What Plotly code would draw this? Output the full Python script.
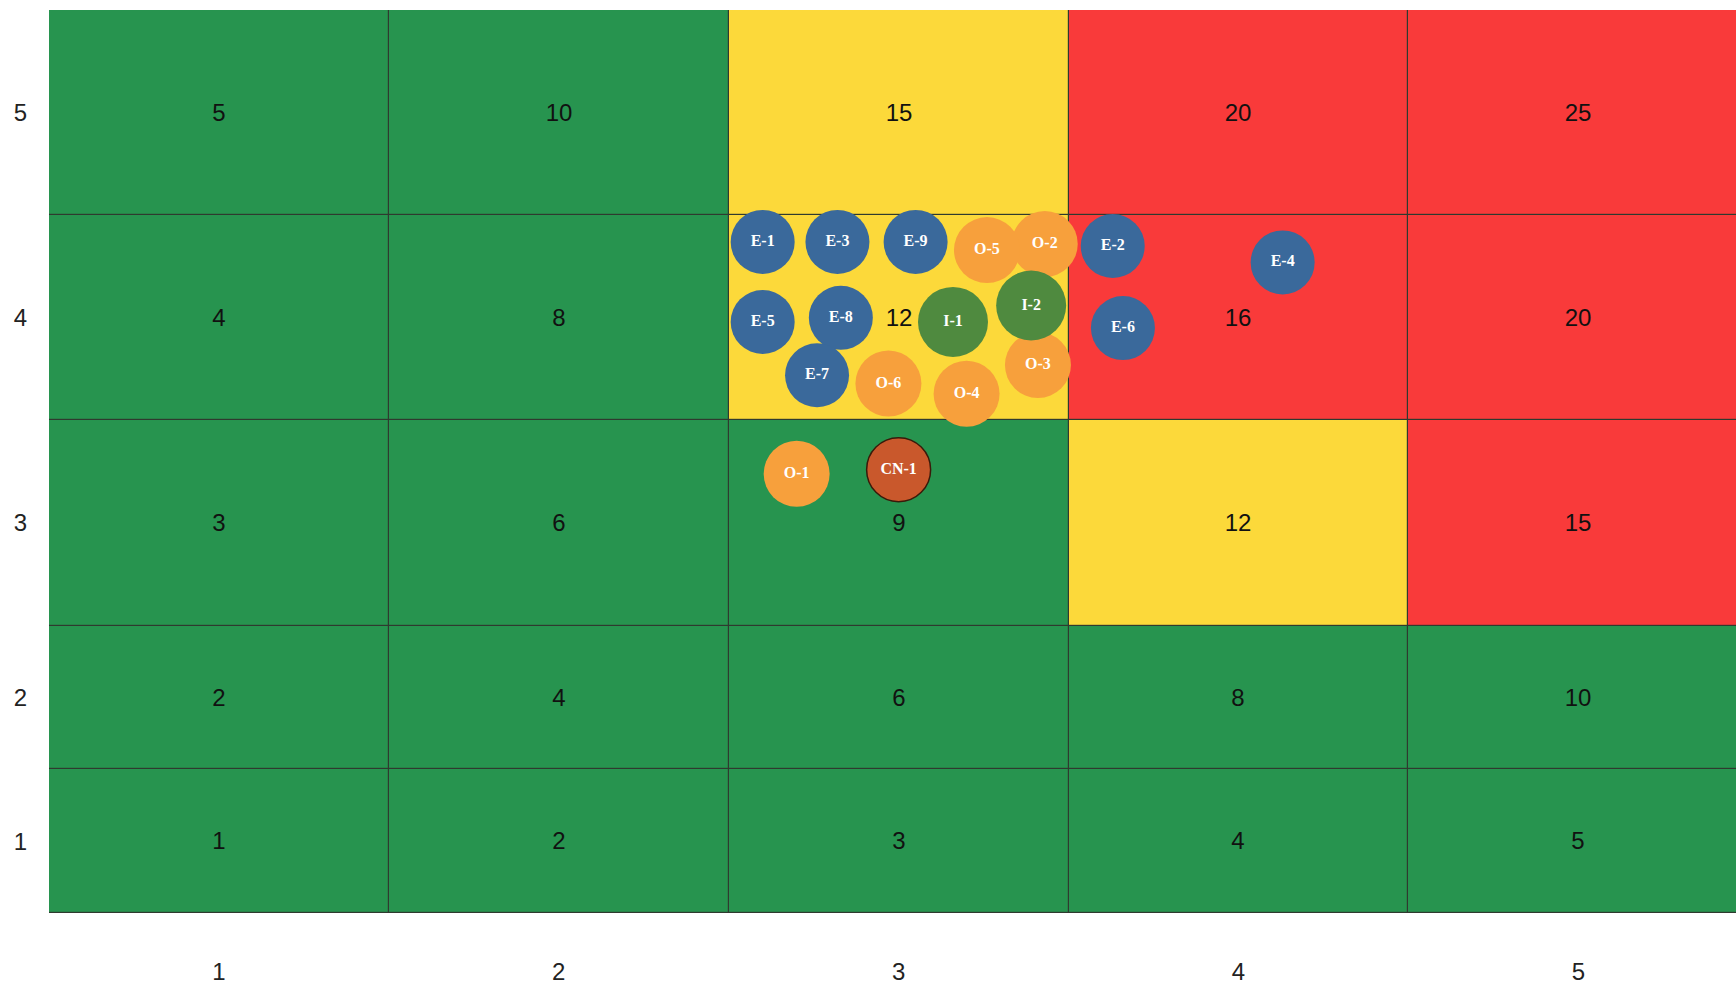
import plotly.graph_objects as go

# ---------------- data ----------------
likelihood = [1, 2, 3, 4, 5]          # x categories
impact = [1, 2, 3, 4, 5]              # y categories
# risk zone per cell (rows = impact 1..5, cols = likelihood 1..5): 0 green, 1 yellow, 2 red
zone = [
    [0, 0, 0, 0, 0],
    [0, 0, 0, 0, 0],
    [0, 0, 0, 1, 2],
    [0, 0, 1, 2, 2],
    [0, 0, 1, 2, 2],
]
scores = [[l * i for l in likelihood] for i in impact]

# row edges on the y axis (rows 1-2 are shorter than rows 3-5)
y_edges = [0, 0.7, 1.4, 2.4, 3.4, 4.4]
x_edges = [0.5, 1.5, 2.5, 3.5, 4.5, 5.5]

# risk bubbles (positions in axis units)
orange_labels = ["O-2", "O-5", "O-6", "O-4", "O-3", "O-1"]
orange_x = [3.43, 3.26, 2.97, 3.20, 3.41, 2.70]
orange_y = [3.26, 3.23, 2.58, 2.53, 2.67, 2.14]

green_labels = ["I-1", "I-2"]
green_x = [3.16, 3.39]
green_y = [2.88, 2.96]

blue_labels = ["E-1", "E-3", "E-9", "E-2", "E-4", "E-5", "E-8", "E-6", "E-7"]
blue_x = [2.60, 2.82, 3.05, 3.63, 4.13, 2.60, 2.83, 3.66, 2.76]
blue_y = [3.27, 3.27, 3.27, 3.25, 3.17, 2.88, 2.90, 2.85, 2.62]

cn_labels = ["CN-1"]
cn_x = [3.00]
cn_y = [2.16]

# ---------------- figure ----------------
fig = go.Figure()

fig.add_trace(go.Heatmap(
    x=x_edges, y=y_edges, z=zone,
    text=scores, texttemplate="%{text}",
    textfont=dict(family="Liberation Sans, Arial, sans-serif", size=24, color="#111111"),
    colorscale=[[0, "#27944f"], [0.333, "#27944f"], [0.334, "#fcd93a"], [0.666, "#fcd93a"],
                [0.667, "#f93a3a"], [1, "#f93a3a"]],
    zmin=0, zmax=2, showscale=False, xgap=1.2, ygap=1.2, hoverinfo="skip",
))

bubble_font = dict(family="Liberation Serif, Times New Roman, serif", size=16, color="white", weight="bold")

def add_bubbles(xs, ys, labels, color, size, line_color=None, line_width=0):
    fig.add_trace(go.Scatter(
        x=xs, y=ys, text=labels, mode="markers+text", textposition="middle center",
        textfont=bubble_font,
        marker=dict(size=size, color=color, opacity=1,
                    line=dict(color=line_color or color, width=line_width)),
        hoverinfo="text", showlegend=False,
    ))

add_bubbles(orange_x, orange_y, orange_labels, "#f7a03c", 66)
add_bubbles(green_x, green_y, green_labels, "#4f8a3f", 70)
add_bubbles(blue_x, blue_y, blue_labels, "#3a699b", 64)
add_bubbles(cn_x, cn_y, cn_labels, "#c9582c", 64, line_color="#3a1a0a", line_width=1.5)

row_centers = [(y_edges[i] + y_edges[i + 1]) / 2 for i in range(len(impact))]

fig.update_xaxes(
    range=[0.5, 5.464], tickvals=likelihood, ticktext=[str(v) for v in likelihood],
    showgrid=False, zeroline=False, showline=False, automargin=False,
    ticks="outside", ticklen=37, tickcolor="rgba(0,0,0,0)",
    tickfont=dict(family="Liberation Sans, Arial, sans-serif", size=24, color="#222222"),
)
fig.update_yaxes(
    range=[0, 4.4], tickvals=row_centers, ticktext=[str(v) for v in impact],
    showgrid=False, zeroline=False, showline=False, automargin=False,
    ticks="outside", ticklen=16, tickcolor="rgba(0,0,0,0)",
    tickfont=dict(family="Liberation Sans, Arial, sans-serif", size=24, color="#222222"),
)

fig.update_layout(
    width=1736, height=984,
    margin=dict(l=49, r=0, t=10, b=71),
    plot_bgcolor="#2f3a2f", paper_bgcolor="white",
    showlegend=False,
)

fig.write_html(
    "out.html",
    config={"displayModeBar": False},
    post_script="document.body.style.margin='0px';document.body.style.overflow='hidden';",
)
